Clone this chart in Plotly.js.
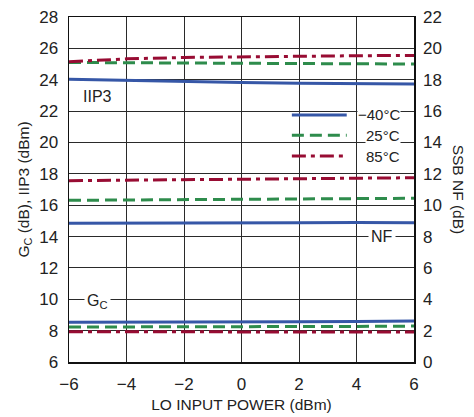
<!DOCTYPE html>
<html><head><meta charset="utf-8">
<script src="https://cdn.plot.ly/plotly-3.0.1.min.js"></script>
<style>html,body{margin:0;padding:0;background:#fff}#c{width:474px;height:417px}</style>
</head><body><div id="c"></div>
<script>
const loPower = [-6, -4, -2, 0, 2, 4, 6];
const seriesNames = ["−40°C", "25°C", "85°C"];
// IIP3 (dBm), left axis
const iip3_m40 = [24.03, 23.95, 23.88, 23.82, 23.77, 23.74, 23.73];
const iip3_25  = [25.10, 25.08, 25.06, 25.04, 25.02, 25.00, 25.00];
const iip3_85  = [25.15, 25.33, 25.42, 25.47, 25.50, 25.53, 25.55];
// SSB NF (dB), right axis
const nf_m40 = [8.85, 8.85, 8.86, 8.87, 8.88, 8.90, 8.88];
const nf_25  = [10.31, 10.33, 10.35, 10.37, 10.39, 10.42, 10.44];
const nf_85  = [11.56, 11.60, 11.63, 11.66, 11.69, 11.72, 11.75];
// Gc (dB), left axis
const gc_m40 = [8.53, 8.53, 8.53, 8.54, 8.56, 8.58, 8.61];
const gc_25  = [8.23, 8.23, 8.23, 8.24, 8.25, 8.27, 8.29];
const gc_85  = [7.93, 7.92, 7.92, 7.92, 7.92, 7.91, 7.91];

const leftTicks = [6,8,10,12,14,16,18,20,22,24,26,28];
const rightTicks = [0,2,4,6,8,10,12,14,16,18,20,22];
const xTicks = [-6,-4,-2,0,2,4,6];

const styles = [
  {color: "#3657a7", dash: "solid"},
  {color: "#2e8c4c", dash: "12px,6px"},
  {color: "#980c33", dash: "14px,5px,4px,5px"}
];
const FONT = "'Liberation Sans', Arial, sans-serif";
const TXT = "#222";

const groups = [
  {ys: [iip3_m40, iip3_25, iip3_85], axis: "y"},
  {ys: [nf_m40, nf_25, nf_85], axis: "y2"},
  {ys: [gc_m40, gc_25, gc_85], axis: "y"}
];
const traces = [];
groups.forEach(g => g.ys.forEach((y, i) => {
  traces.push({x: loPower, y: y, yaxis: g.axis, mode: "lines", name: seriesNames[i],
    showlegend: false, line: {color: styles[i].color, dash: styles[i].dash, width: 3}});
}));

// legend drawn manually
const legX0 = 0.646, legX1 = 0.805, legTextX = 0.962;
const legY = [0.716, 0.657, 0.597];
const shapes = [{type: "rect", xref: "paper", yref: "paper", x0: 0.632, x1: 0.971, y0: 0.557, y1: 0.759,
  fillcolor: "#fff", line: {width: 0}, layer: "between"}];
const annotations = [];
seriesNames.forEach((n, i) => {
  shapes.push({type: "line", xref: "paper", yref: "paper", x0: legX0, x1: legX1, y0: legY[i], y1: legY[i],
    line: {color: styles[i].color, dash: styles[i].dash, width: 3}});
  annotations.push({xref: "paper", yref: "paper", x: legTextX, y: legY[i], text: n, showarrow: false,
    xanchor: "right", yanchor: "middle", bgcolor: "#fff", borderpad: 0, font: {family: FONT, size: 15, color: TXT}});
});
annotations.push(
  {x: -5.0, y: 22.96, xref: "x", yref: "y", text: "IIP3", showarrow: false, font: {family: FONT, size: 16, color: TXT}},
  {x: 4.89, y: 14, xref: "x", yref: "y", text: "NF", showarrow: false, bgcolor: "#fff", borderpad: 2, font: {family: FONT, size: 16, color: TXT}},
  {x: -5.0, y: 10, xref: "x", yref: "y", text: "G<sub>C</sub>", showarrow: false, bgcolor: "#fff", borderpad: 2, yshift: -2, font: {family: FONT, size: 16, color: TXT}},
  {xref: "paper", yref: "paper", x: 1.13, y: 0.5, text: "SSB NF (dB)", textangle: 90, showarrow: false,
    xanchor: "center", yanchor: "middle", font: {family: FONT, size: 15.5, color: TXT}}
);

const gridC = "#2a2a2a";
const layout = {
  width: 474, height: 417,
  margin: {l: 69, r: 60, t: 17, b: 55, pad: 0},
  paper_bgcolor: "#fff", plot_bgcolor: "#fff",
  showlegend: false,
  font: {family: FONT, color: TXT},
  xaxis: {range: [-6, 6], tickvals: xTicks, ticktext: xTicks.map(v => v < 0 ? "−" + Math.abs(v) : String(v)),
    showgrid: true, gridcolor: gridC, gridwidth: 1, zeroline: false,
    showline: true, linecolor: "#111", linewidth: 1.5, mirror: true, ticks: "", ticklabelstandoff: 6,
    tickfont: {family: FONT, size: 17, color: TXT},
    title: {text: "LO INPUT POWER (dBm)", font: {family: FONT, size: 15.5, color: TXT}, standoff: 6}},
  yaxis: {range: [6, 28], tickvals: leftTicks, showgrid: true, gridcolor: gridC, gridwidth: 1, zeroline: false,
    showline: true, linecolor: "#111", linewidth: 1.5, mirror: true, ticks: "", ticklabelstandoff: 6,
    tickfont: {family: FONT, size: 17, color: TXT},
    title: {text: "G<sub>C</sub> (dB), IIP3 (dBm)", font: {family: FONT, size: 15.5, color: TXT}, standoff: 6}},
  yaxis2: {range: [0, 22], tickvals: rightTicks, overlaying: "y", side: "right", showgrid: false, zeroline: false,
    showline: false, ticks: "", ticklabelstandoff: 8, tickfont: {family: FONT, size: 17, color: TXT}},
  shapes: shapes,
  annotations: annotations
};
Plotly.newPlot("c", traces, layout, {staticPlot: true, displayModeBar: false});
</script></body></html>
